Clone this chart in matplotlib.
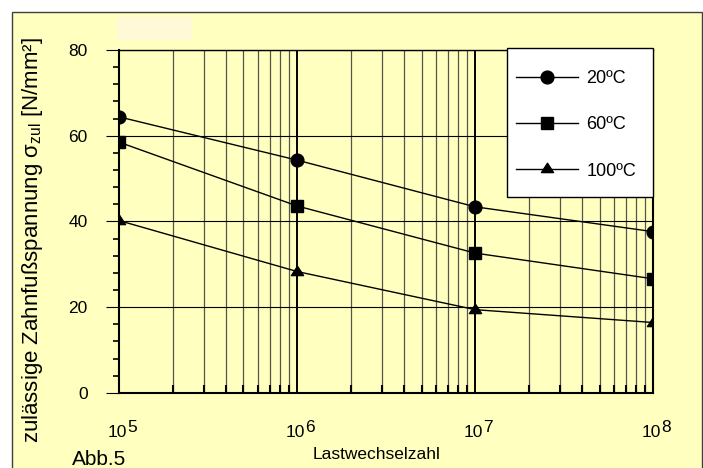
import matplotlib
matplotlib.use("Agg")
import matplotlib.pyplot as plt
import matplotlib.patches as mpatches
from matplotlib.ticker import MultipleLocator, NullFormatter, LogLocator, FixedLocator
from matplotlib.path import Path

plt.rcParams['font.family'] = ['Liberation Sans', 'DejaVu Sans']
plt.rcParams['mathtext.fontset'] = 'custom'
plt.rcParams['mathtext.rm'] = 'Liberation Sans'
plt.rcParams['mathtext.it'] = 'Liberation Sans'

# ---- data ----
cycles = [1e5, 1e6, 1e7, 1e8]
temp_labels = ['20ºC', '60ºC', '100ºC']
stress_20 = [64.4, 54.3, 43.4, 37.6]
stress_60 = [58.5, 43.6, 32.6, 26.6]
stress_100 = [40.2, 28.3, 19.4, 16.4]
x_exponents = [5, 6, 7, 8]
y_ticks = [0, 20, 40, 60, 80]

W, H = 703, 468
BG = '#FFFFC0'
fig = plt.figure(figsize=(W / 100, H / 100), dpi=100)
fig.patch.set_facecolor('white')

# yellow frame
frame = mpatches.Rectangle((12 / W, -0.01), (701.5 - 12) / W, 1 - 12 / H + 0.01,
                           transform=fig.transFigure, facecolor=BG,
                           edgecolor='#404040', lw=1.0, zorder=-10)
fig.patches.append(frame)
# lighter patch (remnant of a hidden title)
patch = mpatches.Rectangle((117 / W, 1 - 40 / H), 75 / W, 23 / H,
                           transform=fig.transFigure, facecolor='#FFF9D8',
                           edgecolor='none', zorder=-9)
fig.patches.append(patch)

left, right, top, bottom = 119, 653.3, 50, 392.8
ax = fig.add_axes([left / W, (H - bottom) / H, (right - left) / W, (bottom - top) / H])
ax.patch.set_visible(False)
ax.set_xscale('log')
ax.set_xlim(1e5, 1e8)
ax.set_ylim(0, 80)

for s in ['left', 'bottom', 'right']:
    ax.spines[s].set_linewidth(1.5)
    ax.spines[s].set_color('black')
ax.spines['top'].set_linewidth(1.0)
ax.spines['top'].set_color('black')

ax.yaxis.set_major_locator(FixedLocator(y_ticks))
ax.yaxis.set_minor_locator(MultipleLocator(4))
ax.tick_params(axis='y', which='major', direction='out', length=9.5, width=0.8,
               pad=13, labelsize=12.5, colors='black')
ax.tick_params(axis='y', which='minor', direction='out', length=4.5, width=1.2)

ax.xaxis.set_major_locator(LogLocator(base=10, numticks=10))
ax.xaxis.set_minor_locator(LogLocator(base=10, subs=range(2, 10), numticks=100))
ax.xaxis.set_minor_formatter(NullFormatter())
ax.tick_params(axis='x', which='major', length=0, labelbottom=False)
ax.tick_params(axis='x', which='minor', direction='in', length=5.8, width=1.5, color='black')

ax.grid(True, which='major', axis='y', color='black', lw=0.8)
ax.grid(True, which='minor', axis='x', color='#55554a', lw=0.9)
ax.grid(True, which='major', axis='x', color='black', lw=1.4)
ax.set_axisbelow(True)

# custom triangle marker (wider than tall, centred at centroid)
tri = Path([(-1, -0.51), (1, -0.51), (0, 1.03), (-1, -0.51)],
           [Path.MOVETO, Path.LINETO, Path.LINETO, Path.CLOSEPOLY])

ax.plot(cycles, stress_20, color='black', lw=1.0, marker='o', ms=9.2,
        label=temp_labels[0], zorder=4)
ax.plot(cycles, stress_60, color='black', lw=1.0, marker='s', ms=9.0,
        label=temp_labels[1], zorder=4)
ax.plot(cycles, stress_100, color='black', lw=1.0, marker=tri, ms=9.0,
        label=temp_labels[2], zorder=4)

# x tick labels 10^n with full-size exponents
for e in x_exponents:
    ax.annotate('10', xy=(10.0 ** e, 0), xycoords=('data', 'axes fraction'),
                xytext=(5.8, -31.8), textcoords='offset points',
                ha='right', va='baseline', fontsize=12.5)
    ax.annotate(str(e), xy=(10.0 ** e, 0), xycoords=('data', 'axes fraction'),
                xytext=(5.8, -28.2), textcoords='offset points',
                ha='left', va='baseline', fontsize=12.5)

# legend box (white, black edge) and frameless legend inside it
legbox = mpatches.Rectangle((507 / W, 1 - 197 / H), (653.3 - 507) / W, 149 / H,
                            transform=fig.transFigure, facecolor='white',
                            edgecolor='black', lw=1.0, zorder=4.5, clip_on=False)
ax.add_artist(legbox)
leg = ax.legend(loc='upper left', bbox_to_anchor=(516 / W, 1 - 70 / H),
                bbox_transform=fig.transFigure, borderaxespad=0, borderpad=0,
                fontsize=13, handlelength=3.45, labelspacing=1.62,
                handletextpad=0.45, numpoints=1, frameon=False)
leg.set_zorder(5)

fig.text(376.5 / W, 1 - 459 / H, 'Lastwechselzahl', ha='center', va='baseline',
         fontsize=12.5)
fig.text(33 / W, 1 - 240 / H, 'zulässige Zahnfußspannung σ$_{\\mathrm{zul}}$ [N/mm²]',
         rotation=90, ha='center', va='center', fontsize=16)
fig.text(72 / W, 1 - 465 / H, 'Abb.5', ha='left', va='baseline', fontsize=15)

fig.savefig('out.png', dpi=100, facecolor=fig.get_facecolor())
